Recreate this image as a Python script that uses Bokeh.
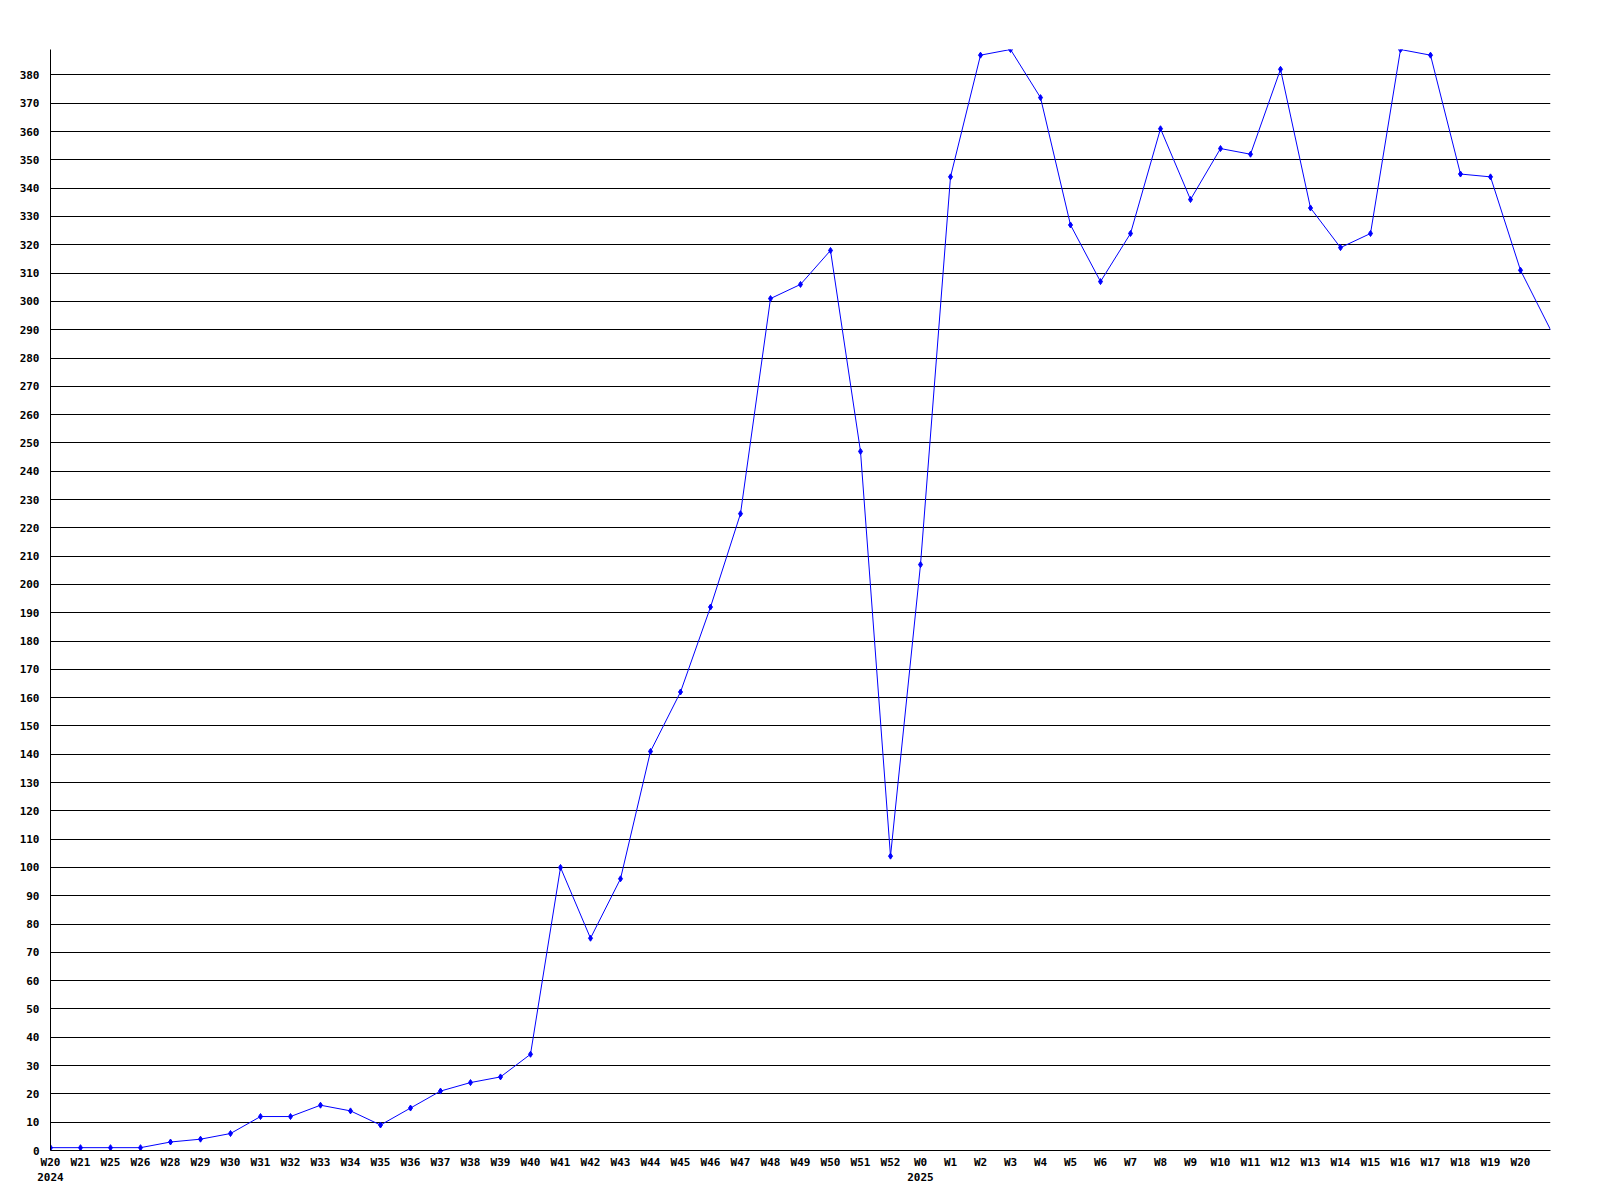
from bokeh.plotting import figure
from bokeh.models import Range1d, FixedTicker, ColumnDataSource
from bokeh.embed import file_html
from bokeh.resources import INLINE

week_labels = ["W20", "W21", "W25", "W26", "W28", "W29", "W30", "W31", "W32", "W33",
               "W34", "W35", "W36", "W37", "W38", "W39", "W40", "W41", "W42", "W43",
               "W44", "W45", "W46", "W47", "W48", "W49", "W50", "W51", "W52", "W0",
               "W1", "W2", "W3", "W4", "W5", "W6", "W7", "W8", "W9", "W10",
               "W11", "W12", "W13", "W14", "W15", "W16", "W17", "W18", "W19", "W20"]
year_labels = {0: "2024", 29: "2025"}
values = [1, 1, 1, 1, 3, 4, 6, 12, 12, 16,
          14, 9, 15, 21, 24, 26, 34, 100, 75, 96,
          141, 162, 192, 225, 301, 306, 318, 247, 104, 207,
          344, 387, 389, 372, 327, 307, 324, 361, 336, 354,
          352, 382, 333, 319, 324, 389, 387, 345, 344, 311,
          290]
y_ticks = list(range(0, 390, 10))

xs = list(range(len(values)))
n_marked = len(week_labels)

FONT = "DejaVu Sans Mono"

p = figure(frame_width=1500, frame_height=1101,
           min_border_left=50, min_border_right=20, min_border_top=49, min_border_bottom=40,
           output_backend="svg", toolbar_location=None,
           x_range=Range1d(0, len(values) - 1), y_range=Range1d(0, max(values)))
p.outline_line_color = None
p.background_fill_color = "white"
p.border_fill_color = "white"

p.line(xs, values, line_color="#0000ff", line_width=1)
src = ColumnDataSource(dict(x=xs[:n_marked], y=values[:n_marked]))
p.scatter("x", "y", source=src, marker="diamond", size=6,
          fill_color="#0000ff", line_color="#0000ff")

overrides = {}
for i, lab in enumerate(week_labels):
    overrides[i] = lab + ("\n" + year_labels[i] if i in year_labels else "")

xa = p.xaxis[0]
xa.ticker = FixedTicker(ticks=list(range(n_marked)))
xa.major_label_overrides = overrides
xa.major_tick_in = 0
xa.major_tick_out = 0
xa.minor_tick_in = 0
xa.minor_tick_out = 0
xa.axis_line_color = "black"
xa.major_label_standoff = 5
xa.major_label_text_font = FONT
xa.major_label_text_font_style = "bold"
xa.major_label_text_font_size = "11px"
xa.major_label_text_color = "black"

ya = p.yaxis[0]
ya.ticker = FixedTicker(ticks=y_ticks)
ya.major_tick_in = 0
ya.major_tick_out = 0
ya.minor_tick_in = 0
ya.minor_tick_out = 0
ya.axis_line_color = "black"
ya.major_label_standoff = 11
ya.major_label_text_font = FONT
ya.major_label_text_font_style = "bold"
ya.major_label_text_font_size = "11px"
ya.major_label_text_color = "black"

p.xgrid.grid_line_color = None
p.ygrid.ticker = FixedTicker(ticks=y_ticks)
p.ygrid.grid_line_color = "black"
p.ygrid.grid_line_alpha = 1.0
p.ygrid.grid_line_width = 1

open("out.html", "w").write(file_html(p, INLINE))
